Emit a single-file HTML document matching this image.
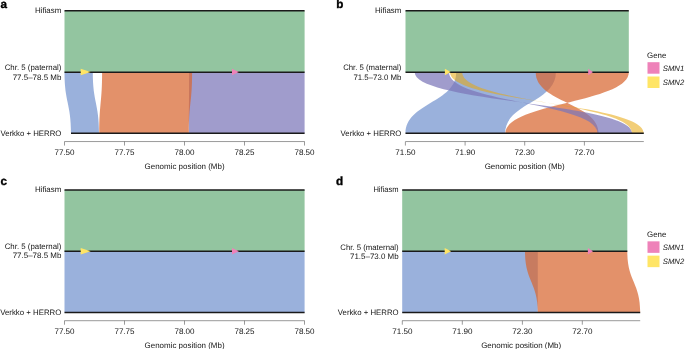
<!DOCTYPE html>
<html><head><meta charset="utf-8"><title>Figure</title>
<style>html,body{margin:0;padding:0;background:#fff}svg{display:block}text{font-family:"Liberation Sans",Arial,Helvetica,sans-serif}svg{will-change:transform;text-rendering:geometricPrecision}</style>
</head><body>
<svg width="685" height="349" viewBox="0 0 685 349">
<rect width="685" height="349" fill="#fff"/>
<text x="0.5" y="7.90" font-size="11.7" font-weight="bold" fill="#000" stroke="#000" stroke-width="0.35">a</text>
<rect x="64.50" y="10.80" width="240.10" height="61.40" fill="#93c5a0"/>
<path d="M64.50,72.20C64.50,102.75 71.00,102.75 71.00,133.30L99.00,133.30C99.00,102.75 92.80,102.75 92.80,72.20Z" fill="#7393ce" fill-opacity="0.72"/>
<path d="M189.10,72.20C189.10,102.75 188.90,102.75 188.90,133.30L304.60,133.30C304.60,102.75 304.60,102.75 304.60,72.20Z" fill="#7b76b8" fill-opacity="0.72"/>
<path d="M102.10,72.20C102.10,102.75 99.30,102.75 99.30,133.30L188.90,133.30C188.90,102.75 192.10,102.75 192.10,72.20Z" fill="#d86630" fill-opacity="0.72"/>
<line x1="64.50" x2="304.60" y1="10.80" y2="10.80" stroke="#1a1a1a" stroke-width="1.5"/>
<line x1="64.50" x2="304.60" y1="72.20" y2="72.20" stroke="#1a1a1a" stroke-width="1.5"/>
<line x1="71.00" x2="304.60" y1="133.30" y2="133.30" stroke="#1a1a1a" stroke-width="1.5"/>
<path d="M80.70,68.75L90.70,72.00L80.70,75.25Z" fill="#FFE566"/>
<path d="M232.00,68.75L238.90,72.00L232.00,75.25Z" fill="#EE82B9"/>
<text x="61.40" y="13.10" text-anchor="end" font-size="7.9" fill="#151515"  textLength="26.5" lengthAdjust="spacingAndGlyphs">Hifiasm</text>
<text x="61.40" y="70.40" text-anchor="end" font-size="7.9" fill="#151515"  textLength="56.7" lengthAdjust="spacingAndGlyphs">Chr. 5 (paternal)</text>
<text x="61.40" y="79.70" text-anchor="end" font-size="7.9" fill="#151515"  textLength="48.7" lengthAdjust="spacingAndGlyphs">77.5–78.5 Mb</text>
<text x="61.40" y="135.80" text-anchor="end" font-size="7.9" fill="#151515"  textLength="61.0" lengthAdjust="spacingAndGlyphs">Verkko + HERRO</text>
<path d="M64.50,141.55H304.60M64.50,141.55v4.0M124.50,141.55v4.0M184.50,141.55v4.0M244.50,141.55v4.0M304.50,141.55v4.0" stroke="#555" stroke-width="0.6" fill="none"/>
<text x="64.50" y="154.80" text-anchor="middle" font-size="8.0" fill="#151515"  textLength="20.2" lengthAdjust="spacingAndGlyphs">77.50</text>
<text x="124.50" y="154.80" text-anchor="middle" font-size="8.0" fill="#151515"  textLength="20.2" lengthAdjust="spacingAndGlyphs">77.75</text>
<text x="184.50" y="154.80" text-anchor="middle" font-size="8.0" fill="#151515"  textLength="20.2" lengthAdjust="spacingAndGlyphs">78.00</text>
<text x="244.50" y="154.80" text-anchor="middle" font-size="8.0" fill="#151515"  textLength="20.2" lengthAdjust="spacingAndGlyphs">78.25</text>
<text x="304.50" y="154.80" text-anchor="middle" font-size="8.0" fill="#151515"  textLength="20.2" lengthAdjust="spacingAndGlyphs">78.50</text>
<text x="184.55" y="168.65" text-anchor="middle" font-size="7.95" fill="#151515"  textLength="80" lengthAdjust="spacingAndGlyphs">Genomic position (Mb)</text>
<text x="0.6" y="185.00" font-size="11.7" font-weight="bold" fill="#000" stroke="#000" stroke-width="0.35">c</text>
<rect x="64.50" y="189.95" width="240.10" height="61.40" fill="#93c5a0"/>
<path d="M64.50,251.35C64.50,281.90 64.50,281.90 64.50,312.45L304.60,312.45C304.60,281.90 304.60,281.90 304.60,251.35Z" fill="#7393ce" fill-opacity="0.72"/>
<line x1="64.50" x2="304.60" y1="189.95" y2="189.95" stroke="#1a1a1a" stroke-width="1.5"/>
<line x1="64.50" x2="304.60" y1="251.35" y2="251.35" stroke="#1a1a1a" stroke-width="1.5"/>
<line x1="64.50" x2="304.60" y1="312.45" y2="312.45" stroke="#1a1a1a" stroke-width="1.5"/>
<path d="M80.70,247.90L90.70,251.15L80.70,254.40Z" fill="#FFE566"/>
<path d="M232.00,247.90L238.90,251.15L232.00,254.40Z" fill="#EE82B9"/>
<text x="61.40" y="192.05" text-anchor="end" font-size="7.9" fill="#151515"  textLength="26.5" lengthAdjust="spacingAndGlyphs">Hifiasm</text>
<text x="61.40" y="249.05" text-anchor="end" font-size="7.9" fill="#151515"  textLength="56.7" lengthAdjust="spacingAndGlyphs">Chr. 5 (paternal)</text>
<text x="61.40" y="258.45" text-anchor="end" font-size="7.9" fill="#151515"  textLength="48.7" lengthAdjust="spacingAndGlyphs">77.5–78.5 Mb</text>
<text x="61.40" y="314.55" text-anchor="end" font-size="7.9" fill="#151515"  textLength="61.2" lengthAdjust="spacingAndGlyphs">Verkko + HERRO</text>
<path d="M64.50,320.70H304.60M64.50,320.70v4.0M124.50,320.70v4.0M184.50,320.70v4.0M244.50,320.70v4.0M304.50,320.70v4.0" stroke="#555" stroke-width="0.6" fill="none"/>
<text x="64.50" y="333.95" text-anchor="middle" font-size="8.0" fill="#151515"  textLength="20.2" lengthAdjust="spacingAndGlyphs">77.50</text>
<text x="124.50" y="333.95" text-anchor="middle" font-size="8.0" fill="#151515"  textLength="20.2" lengthAdjust="spacingAndGlyphs">77.75</text>
<text x="184.50" y="333.95" text-anchor="middle" font-size="8.0" fill="#151515"  textLength="20.2" lengthAdjust="spacingAndGlyphs">78.00</text>
<text x="244.50" y="333.95" text-anchor="middle" font-size="8.0" fill="#151515"  textLength="20.2" lengthAdjust="spacingAndGlyphs">78.25</text>
<text x="304.50" y="333.95" text-anchor="middle" font-size="8.0" fill="#151515"  textLength="20.2" lengthAdjust="spacingAndGlyphs">78.50</text>
<text x="184.55" y="347.80" text-anchor="middle" font-size="7.95" fill="#151515"  textLength="80" lengthAdjust="spacingAndGlyphs">Genomic position (Mb)</text>
<text x="336.2" y="7.90" font-size="11.7" font-weight="bold" fill="#000" stroke="#000" stroke-width="0.35">b</text>
<rect x="405.50" y="10.80" width="223.30" height="61.40" fill="#93c5a0"/>
<path d="M456.20,72.20C456.20,102.75 405.60,102.75 405.60,133.30L505.10,133.30C505.10,102.75 555.90,102.75 555.90,72.20Z" fill="#7393ce" fill-opacity="0.72"/>
<path d="M535.70,72.20C535.70,102.75 598.70,102.75 598.70,133.30L505.40,133.30C505.40,102.75 628.80,102.75 628.80,72.20Z" fill="#d86630" fill-opacity="0.72"/>
<path d="M414.70,72.20C414.70,102.75 632.20,102.75 632.20,133.30L597.50,133.30C597.50,102.75 449.00,102.75 449.00,72.20Z" fill="#7b76b8" fill-opacity="0.72"/>
<path d="M450.00,72.20C450.00,102.75 643.80,102.75 643.80,133.30L632.20,133.30C632.20,102.75 462.20,102.75 462.20,72.20Z" fill="#e8a80e" fill-opacity="0.56"/>
<line x1="405.50" x2="628.80" y1="10.80" y2="10.80" stroke="#1a1a1a" stroke-width="1.5"/>
<line x1="405.50" x2="628.80" y1="72.20" y2="72.20" stroke="#1a1a1a" stroke-width="1.5"/>
<line x1="405.50" x2="643.80" y1="133.30" y2="133.30" stroke="#1a1a1a" stroke-width="1.5"/>
<path d="M444.90,68.75L450.70,72.00L444.90,75.25Z" fill="#FFE566"/>
<path d="M588.20,68.75L593.00,72.00L588.20,75.25Z" fill="#EE82B9"/>
<text x="401.40" y="13.10" text-anchor="end" font-size="7.9" fill="#151515"  textLength="26.3" lengthAdjust="spacingAndGlyphs">Hifiasm</text>
<text x="401.40" y="70.40" text-anchor="end" font-size="7.9" fill="#151515"  textLength="58.2" lengthAdjust="spacingAndGlyphs">Chr. 5 (maternal)</text>
<text x="401.40" y="79.70" text-anchor="end" font-size="7.9" fill="#151515"  textLength="48.0" lengthAdjust="spacingAndGlyphs">71.5–73.0 Mb</text>
<text x="401.40" y="135.80" text-anchor="end" font-size="7.9" fill="#151515"  textLength="60.8" lengthAdjust="spacingAndGlyphs">Verkko + HERRO</text>
<path d="M405.50,141.55H643.80M405.40,141.55v4.0M465.10,141.55v4.0M524.70,141.55v4.0M584.40,141.55v4.0" stroke="#555" stroke-width="0.6" fill="none"/>
<text x="405.40" y="154.80" text-anchor="middle" font-size="8.0" fill="#151515"  textLength="20.2" lengthAdjust="spacingAndGlyphs">71.50</text>
<text x="465.10" y="154.80" text-anchor="middle" font-size="8.0" fill="#151515"  textLength="20.2" lengthAdjust="spacingAndGlyphs">71.90</text>
<text x="524.70" y="154.80" text-anchor="middle" font-size="8.0" fill="#151515"  textLength="20.2" lengthAdjust="spacingAndGlyphs">72.30</text>
<text x="584.40" y="154.80" text-anchor="middle" font-size="8.0" fill="#151515"  textLength="20.2" lengthAdjust="spacingAndGlyphs">72.70</text>
<text x="524.65" y="168.65" text-anchor="middle" font-size="7.95" fill="#151515"  textLength="80" lengthAdjust="spacingAndGlyphs">Genomic position (Mb)</text>
<text x="336.1" y="185.00" font-size="11.7" font-weight="bold" fill="#000" stroke="#000" stroke-width="0.35">d</text>
<rect x="402.20" y="189.95" width="225.10" height="61.40" fill="#93c5a0"/>
<path d="M402.20,251.35C402.20,281.90 402.20,281.90 402.20,312.45L537.80,312.45C537.80,281.90 537.80,281.90 537.80,251.35Z" fill="#7393ce" fill-opacity="0.72"/>
<path d="M525.00,251.35C525.00,281.90 537.80,281.90 537.80,312.45L640.20,312.45C640.20,281.90 627.30,281.90 627.30,251.35Z" fill="#d86630" fill-opacity="0.72"/>
<line x1="402.20" x2="627.30" y1="189.95" y2="189.95" stroke="#1a1a1a" stroke-width="1.5"/>
<line x1="402.20" x2="627.30" y1="251.35" y2="251.35" stroke="#1a1a1a" stroke-width="1.5"/>
<line x1="402.20" x2="640.20" y1="312.45" y2="312.45" stroke="#1a1a1a" stroke-width="1.5"/>
<path d="M444.70,247.90L451.10,251.15L444.70,254.40Z" fill="#FFE566"/>
<path d="M587.90,247.90L593.00,251.15L587.90,254.40Z" fill="#EE82B9"/>
<text x="398.60" y="192.25" text-anchor="end" font-size="7.9" fill="#151515"  textLength="25.2" lengthAdjust="spacingAndGlyphs">Hifiasm</text>
<text x="398.60" y="249.55" text-anchor="end" font-size="7.9" fill="#151515"  textLength="58.3" lengthAdjust="spacingAndGlyphs">Chr. 5 (maternal)</text>
<text x="398.60" y="258.85" text-anchor="end" font-size="7.9" fill="#151515"  textLength="48.6" lengthAdjust="spacingAndGlyphs">71.5–73.0 Mb</text>
<text x="398.60" y="315.35" text-anchor="end" font-size="7.9" fill="#151515"  textLength="60.8" lengthAdjust="spacingAndGlyphs">Verkko + HERRO</text>
<path d="M402.20,320.70H640.20M402.30,320.70v4.0M462.30,320.70v4.0M522.40,320.70v4.0M582.30,320.70v4.0" stroke="#555" stroke-width="0.6" fill="none"/>
<text x="402.30" y="333.95" text-anchor="middle" font-size="8.0" fill="#151515"  textLength="20.2" lengthAdjust="spacingAndGlyphs">71.50</text>
<text x="462.30" y="333.95" text-anchor="middle" font-size="8.0" fill="#151515"  textLength="20.2" lengthAdjust="spacingAndGlyphs">71.90</text>
<text x="522.40" y="333.95" text-anchor="middle" font-size="8.0" fill="#151515"  textLength="20.2" lengthAdjust="spacingAndGlyphs">72.30</text>
<text x="582.30" y="333.95" text-anchor="middle" font-size="8.0" fill="#151515"  textLength="20.2" lengthAdjust="spacingAndGlyphs">72.70</text>
<text x="521.20" y="347.80" text-anchor="middle" font-size="7.95" fill="#151515"  textLength="80" lengthAdjust="spacingAndGlyphs">Genomic position (Mb)</text>
<text x="647.00" y="58.20" text-anchor="start" font-size="7.9" fill="#151515" >Gene</text>
<rect x="647.5" y="62.20" width="12" height="11.5" fill="#EE82B9"/>
<rect x="647.5" y="76.50" width="12" height="11.5" fill="#FFE566"/>
<text x="662.80" y="70.60" text-anchor="start" font-size="7.8" fill="#151515" font-style="italic" textLength="21.4" lengthAdjust="spacingAndGlyphs">SMN1</text>
<text x="662.80" y="85.10" text-anchor="start" font-size="7.8" fill="#151515" font-style="italic" textLength="21.4" lengthAdjust="spacingAndGlyphs">SMN2</text>
<text x="647.00" y="237.35" text-anchor="start" font-size="7.9" fill="#151515" >Gene</text>
<rect x="647.5" y="241.35" width="12" height="11.5" fill="#EE82B9"/>
<rect x="647.5" y="255.65" width="12" height="11.5" fill="#FFE566"/>
<text x="662.80" y="249.75" text-anchor="start" font-size="7.8" fill="#151515" font-style="italic" textLength="21.4" lengthAdjust="spacingAndGlyphs">SMN1</text>
<text x="662.80" y="264.25" text-anchor="start" font-size="7.8" fill="#151515" font-style="italic" textLength="21.4" lengthAdjust="spacingAndGlyphs">SMN2</text>
</svg>
</body></html>
